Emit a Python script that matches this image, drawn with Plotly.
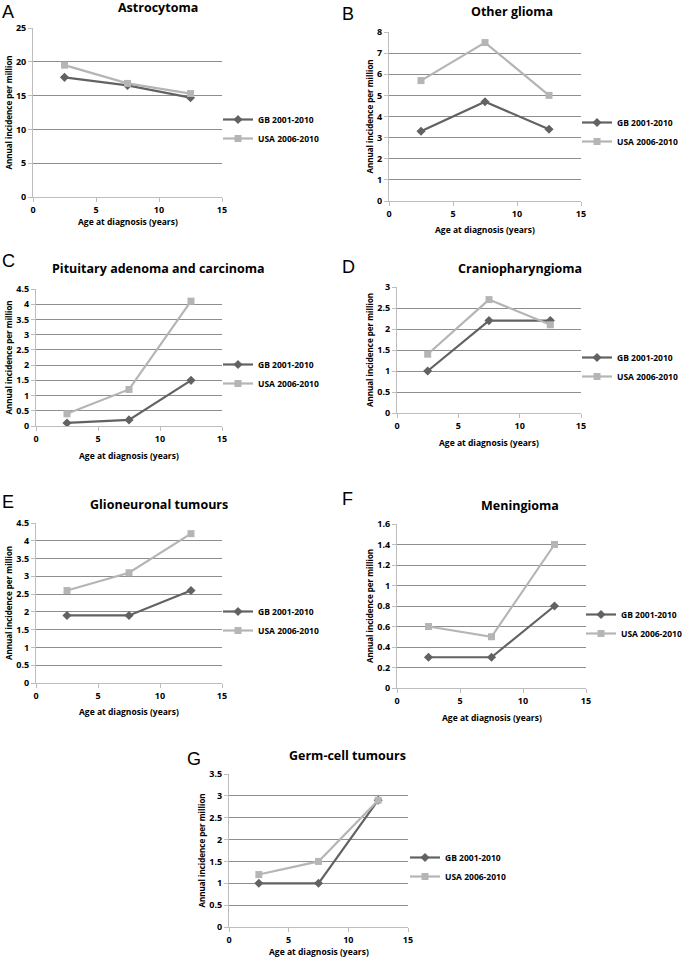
import plotly.graph_objects as go

W, H = 685, 959

age = [2.5, 7.5, 12.5]

titles = ["Astrocytoma", "Other glioma", "Pituitary adenoma and carcinoma",
          "Craniopharyngioma", "Glioneuronal tumours", "Meningioma", "Germ-cell tumours"]
letters = ["A", "B", "C", "D", "E", "F", "G"]

gb_astro = [17.7, 16.5, 14.7]
usa_astro = [19.5, 16.8, 15.3]
gb_other = [3.3, 4.7, 3.4]
usa_other = [5.7, 7.5, 5.0]
gb_pit = [0.1, 0.2, 1.5]
usa_pit = [0.4, 1.2, 4.1]
gb_cranio = [1.0, 2.2, 2.2]
usa_cranio = [1.4, 2.7, 2.1]
gb_glio = [1.9, 1.9, 2.6]
usa_glio = [2.6, 3.1, 4.2]
gb_menin = [0.3, 0.3, 0.8]
usa_menin = [0.6, 0.5, 1.4]
gb_germ = [1.0, 1.0, 2.9]
usa_germ = [1.2, 1.5, 2.9]

gb_all = [gb_astro, gb_other, gb_pit, gb_cranio, gb_glio, gb_menin, gb_germ]
usa_all = [usa_astro, usa_other, usa_pit, usa_cranio, usa_glio, usa_menin, usa_germ]

y_max = [25, 8, 4.5, 3, 4.5, 1.6, 3.5]
y_step = [5, 1, 0.5, 0.5, 0.5, 0.2, 0.5]

# layout (pixel) boxes: left, right, top, bottom of plot area
boxes = [
    (33, 222, 28, 197),
    (389, 581, 32, 201),
    (36, 222, 289, 426),
    (397, 581, 287, 413),
    (36, 222, 523, 683),
    (397, 586, 524, 688),
    (229, 408, 774, 927),
]
title_pos = [(158, 8), (512, 12), (158, 268), (520, 268), (159, 504), (520, 505), (348, 755)]
# letter: left x, top y of text box
letter_pos = [(-1, -1), (340, 2), (-1, 249), (340, 255), (-1, 490), (340, 487), (185, 747)]
# legend: x of text start, y of middle
legend_pos = [(258, 129), (617, 132), (258, 374), (617, 367), (258, 621), (621, 624), (445, 867)]
xtitle_y = [221, 229, 455, 442, 711, 717, 951]

FONT = "Open Sans"
GB_COL = "#626262"
USA_COL = "#b5b5b5"
TXT = dict(family=FONT, weight="bold", color="black")

fig = go.Figure()
layout = dict(
    width=W, height=H, margin=dict(l=0, r=0, t=0, b=0, autoexpand=False),
    paper_bgcolor="white", plot_bgcolor="white",
    font=dict(family=FONT, color="black"),
    annotations=[],
)

def px(x):
    return x / W

def py(y):
    return 1 - y / H

for i in range(7):
    sfx = "" if i == 0 else str(i + 1)
    xa, ya = "x" + sfx, "y" + sfx
    lg = "legend" + sfx
    l, r, t, b = boxes[i]
    fig.add_trace(go.Scatter(
        x=age, y=gb_all[i], mode="lines+markers", name="GB 2001-2010",
        line=dict(color=GB_COL, width=2.2),
        marker=dict(symbol="diamond", size=7, color=GB_COL),
        xaxis=xa, yaxis=ya, legend=lg))
    fig.add_trace(go.Scatter(
        x=age, y=usa_all[i], mode="lines+markers", name="USA 2006-2010",
        line=dict(color=USA_COL, width=2.2),
        marker=dict(symbol="square", size=7, color=USA_COL),
        xaxis=xa, yaxis=ya, legend=lg))
    layout["xaxis" + sfx] = dict(
        domain=[px(l), px(r)], anchor=ya, range=[0, 15], dtick=5, tick0=0,
        showgrid=False, zeroline=False, showline=True, linecolor="#bdbdbd",
        linewidth=1, ticks="outside", ticklen=4, tickcolor="#bdbdbd",
        tickfont=dict(size=9, **TXT), automargin=False,
        fixedrange=True)
    layout["yaxis" + sfx] = dict(
        domain=[py(b), py(t)], anchor=xa, range=[0, y_max[i]], dtick=y_step[i], tick0=0,
        showgrid=True, gridcolor="#8e8e8e", gridwidth=1,
        zeroline=False, showline=True, linecolor="#bdbdbd", linewidth=1,
        ticks="outside", ticklen=4, tickcolor="#bdbdbd",
        tickfont=dict(size=9, **TXT), automargin=False,
        title=dict(text="Annual incidence per million", standoff=2,
                   font=dict(size=8, **TXT)),
        fixedrange=True)
    lx, lyc = legend_pos[i]
    layout[lg] = dict(
        x=px(lx - 40), y=py(lyc), xanchor="left", yanchor="middle",
        bgcolor="rgba(0,0,0,0)", itemwidth=30, tracegroupgap=0,
        font=dict(size=8.5, **TXT),
        itemclick=False, itemdoubleclick=False)
    tx, ty = title_pos[i]
    layout["annotations"].append(dict(
        text=titles[i], x=px(tx), y=py(ty), xref="paper", yref="paper",
        xanchor="center", yanchor="middle", showarrow=False,
        font=dict(size=12.5, **TXT)))
    lx2, ly2 = letter_pos[i]
    layout["annotations"].append(dict(
        text=letters[i], x=px(max(lx2, 0)), y=py(max(ly2, 0)), xref="paper", yref="paper",
        xanchor="left", yanchor="top", showarrow=False,
        font=dict(size=18, family="Liberation Sans", color="black")))
    layout["annotations"].append(dict(
        text="Age at diagnosis (years)", x=px((l + r) / 2), y=py(xtitle_y[i]),
        xref="paper", yref="paper", xanchor="center", yanchor="middle",
        showarrow=False,
        font=dict(size=8.5, **TXT)))

fig.update_layout(**layout)
fig.write_html("out.html",
               config={"displayModeBar": False, "staticPlot": False},
               post_script="document.body.style.margin='0';document.body.style.overflow='hidden';")
